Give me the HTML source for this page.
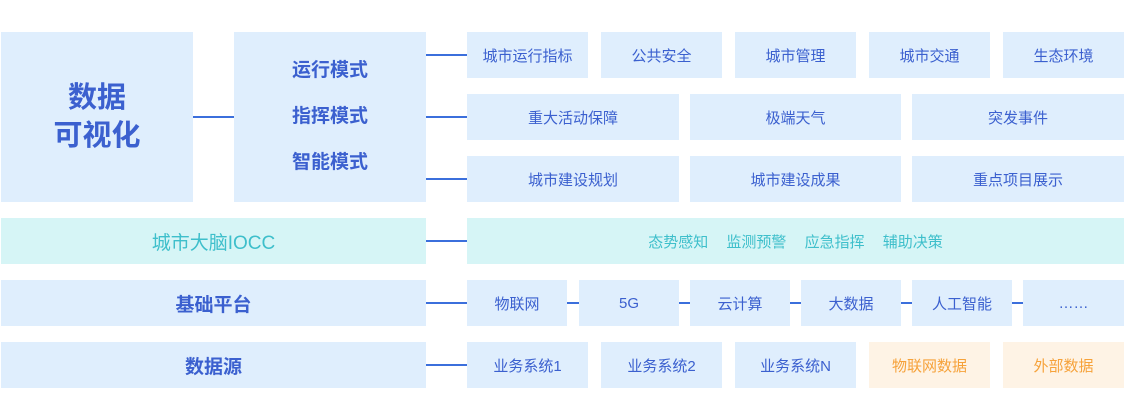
<!DOCTYPE html>
<html><head><meta charset="utf-8"><style>
body{margin:0;width:1127px;height:400px;background:#fff;position:relative;overflow:hidden;font-family:"Liberation Sans","Noto Sans CJK SC",sans-serif}
.b{position:absolute;background:#dfeefd;color:#3b60cf;display:flex;align-items:center;justify-content:center;font-size:15px;box-sizing:border-box}
.t{background:#d6f5f6;color:#3ebfcb}
.o{background:#fef3e5;color:#f6a23a}
.l{position:absolute;height:2px;background:#3b6fdc}
</style></head><body>
<div class="b" style="left:1px;top:32px;width:192px;height:170px;font-size:29px;line-height:38px;text-align:center;font-weight:bold">数据<br>可视化</div>
<div class="b" style="left:234px;top:32px;width:192px;height:170px;font-size:19px;line-height:46px;text-align:center;font-weight:bold;flex-direction:column"><div>运行模式</div><div>指挥模式</div><div>智能模式</div></div>
<div class="l" style="left:193px;top:116px;width:41px"></div>
<div class="l" style="left:426px;top:54px;width:41px"></div>
<div class="l" style="left:426px;top:116px;width:41px"></div>
<div class="l" style="left:426px;top:178px;width:41px"></div>
<div class="l" style="left:426px;top:240px;width:41px"></div>
<div class="l" style="left:426px;top:302px;width:41px"></div>
<div class="l" style="left:426px;top:364px;width:41px"></div>

<div class="b" style="left:467px;top:32px;width:121px;height:46px">城市运行指标</div>
<div class="b" style="left:601px;top:32px;width:121px;height:46px">公共安全</div>
<div class="b" style="left:735px;top:32px;width:121px;height:46px">城市管理</div>
<div class="b" style="left:869px;top:32px;width:121px;height:46px">城市交通</div>
<div class="b" style="left:1003px;top:32px;width:121px;height:46px">生态环境</div>

<div class="b" style="left:467px;top:94px;width:212px;height:46px">重大活动保障</div>
<div class="b" style="left:690px;top:94px;width:211px;height:46px">极端天气</div>
<div class="b" style="left:912px;top:94px;width:212px;height:46px">突发事件</div>

<div class="b" style="left:467px;top:156px;width:212px;height:46px">城市建设规划</div>
<div class="b" style="left:690px;top:156px;width:211px;height:46px">城市建设成果</div>
<div class="b" style="left:912px;top:156px;width:212px;height:46px">重点项目展示</div>

<div class="b t" style="left:1px;top:218px;width:425px;height:46px;font-size:19px">城市大脑IOCC</div>
<div class="b t" style="left:467px;top:218px;width:657px;height:46px;word-spacing:14px">态势感知 监测预警 应急指挥 辅助决策</div>

<div class="b" style="left:1px;top:280px;width:425px;height:46px;font-size:19px;font-weight:bold">基础平台</div>
<div class="l" style="left:567px;top:302px;width:456px"></div>
<div class="b" style="left:467px;top:280px;width:100px;height:46px">物联网</div>
<div class="b" style="left:579px;top:280px;width:100px;height:46px">5G</div>
<div class="b" style="left:690px;top:280px;width:100px;height:46px">云计算</div>
<div class="b" style="left:801px;top:280px;width:100px;height:46px">大数据</div>
<div class="b" style="left:912px;top:280px;width:100px;height:46px">人工智能</div>
<div class="b" style="left:1023px;top:280px;width:101px;height:46px">……</div>

<div class="b" style="left:1px;top:342px;width:425px;height:46px;font-size:19px;font-weight:bold">数据源</div>
<div class="b" style="left:467px;top:342px;width:121px;height:46px">业务系统1</div>
<div class="b" style="left:601px;top:342px;width:121px;height:46px">业务系统2</div>
<div class="b" style="left:735px;top:342px;width:121px;height:46px">业务系统N</div>
<div class="b o" style="left:869px;top:342px;width:121px;height:46px">物联网数据</div>
<div class="b o" style="left:1003px;top:342px;width:121px;height:46px">外部数据</div>
</body></html>
